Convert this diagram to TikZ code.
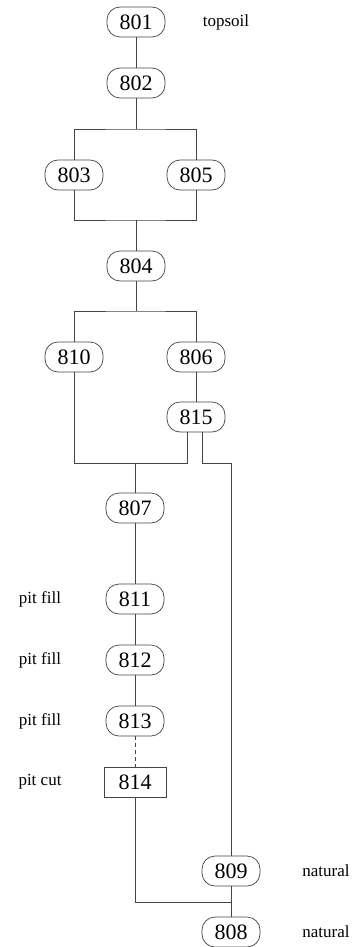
\documentclass[tikz,border=0pt]{standalone}
\usepackage{fontspec}
\setmainfont{Liberation Serif}
\begin{document}
\begin{tikzpicture}[x=1pt, y=-1pt]
  % Colors
  \definecolor{blank}{HTML}{ffffff}
  \definecolor{outline}{HTML}{444444}

  % Configurations
  \tikzset{
    unit/.style={draw=outline, line width=.7pt, rounded corners=13pt,
      minimum width=58pt, minimum height=30pt, inner sep=0pt,
      font=\fontsize{22}{22}\selectfont},
    cutbox/.style={unit, rounded corners=0pt, minimum width=62pt},
    note/.style={font=\fontsize{17}{17}\selectfont},
    link/.style={draw=outline, line width=.7pt}
  }

  % Bounding box
  \useasboundingbox [fill=blank] (0,0) rectangle (362,947);

  % Units
  \node [unit] (u801) at (136,22) {801};
  \node [unit] (u802) at (136,83) {802};
  \node [unit] (u803) at (74,175) {803};
  \node [unit] (u805) at (196,175) {805};
  \node [unit] (u804) at (136,266) {804};
  \node [unit] (u810) at (74,357) {810};
  \node [unit] (u806) at (196,357) {806};
  \node [unit] (u815) at (196,417) {815};
  \node [unit] (u807) at (135,508) {807};
  \node [unit] (u811) at (135,599) {811};
  \node [unit] (u812) at (135,660) {812};
  \node [unit] (u813) at (135,721) {813};
  \node [cutbox] (u814) at (135,782) {814};
  \node [unit] (u809) at (231,871) {809};
  \node [unit] (u808) at (231,932) {808};

  % Notes
  \node [note] (topsoil) at (226,22) {topsoil};
  \node [note] (fill811) at (40,599) {pit fill};
  \node [note] (fill812) at (40,660) {pit fill};
  \node [note] (fill813) at (40,721) {pit fill};
  \node [note] (cut814) at (40,782) {pit cut};
  \node [note] (nat809) at (326,871) {natural};
  \node [note] (nat808) at (326,932) {natural};

  % Junctions
  \coordinate (split1) at (136,129);
  \coordinate (merge1) at (136,220);
  \coordinate (split2) at (136,311);
  \coordinate (merge2) at (135,463);
  \coordinate (leg1) at (187,463);
  \coordinate (leg2) at (202,463);
  \coordinate (merge3) at (231,902);

  % Links
  \draw [link] (u801) -- (u802);
  \draw [link] (u802) -- (split1);
  \draw [link] (u803) |- (split1) -| (u805);
  \draw [link] (u803) |- (merge1) -| (u805);
  \draw [link] (merge1) -- (u804);
  \draw [link] (u804) -- (split2);
  \draw [link] (u810) |- (split2) -| (u806);
  \draw [link] (u806) -- (u815);
  \draw [link] (u810) |- (leg1) -- (leg1 |- u815.south);
  \draw [link] (merge2) -- (u807);
  \draw [link] (leg2 |- u815.south) -- (leg2) -| (u809);
  \draw [link] (u807) -- (u811);
  \draw [link] (u811) -- (u812);
  \draw [link] (u812) -- (u813);
  \draw [link, dash pattern=on 4pt off 3pt] (u813) -- (u814);
  \draw [link] (u814) |- (merge3);
  \draw [link] (u809) -- (u808);
\end{tikzpicture}
\end{document}
